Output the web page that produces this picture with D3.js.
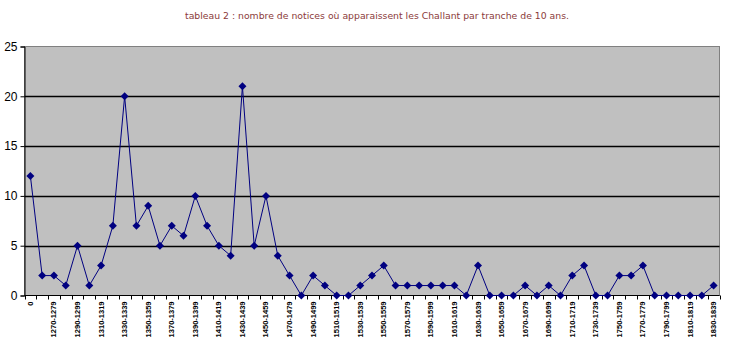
<!DOCTYPE html>
<html><head><meta charset="utf-8">
<script src="https://cdn.jsdelivr.net/npm/d3@7"></script>
<style>
body{margin:0;background:#fff;}
svg{display:block;}
</style></head>
<body>
<svg id="c" width="739" height="357"></svg>
<script>
const categories = ["0"];
for (let y = 1260; y <= 1830; y += 10) categories.push(y + "-" + (y + 9));
const values = [12,2,2,1,5,1,3,7,20,7,9,5,7,6,10,7,5,4,21,5,10,4,2,0,2,1,0,0,1,2,3,1,1,1,1,1,1,0,3,0,0,0,1,0,1,0,2,3,0,0,2,2,3,0,0,0,0,0,1];
const yTicks = [0,5,10,15,20,25];
const title = "tableau 2 : nombre de notices où apparaissent les Challant par tranche de 10 ans.";

const svg = d3.select("#c");
const L = 24.5, R = 719.5, T = 46.5, B = 295.5;
const x = d3.scaleBand().domain(categories).range([L, R]);
const y = d3.scaleLinear().domain([0, 25]).range([B, T]);

svg.append("text").attr("x", 377).attr("y", 19).attr("text-anchor", "middle")
  .attr("font-family", "'Comic Sans MS','DejaVu Sans',sans-serif").attr("font-size", 9.3)
  .attr("fill", "#8b3a3a").text(title);

svg.append("rect").attr("x", L).attr("y", T).attr("width", R - L).attr("height", B - T)
  .attr("fill", "#c0c0c0").attr("stroke", "#808080").attr("stroke-width", 1);

svg.append("g").selectAll("line").data(yTicks.filter(d => d > 0 && d < 25)).join("line")
  .attr("x1", L).attr("x2", R).attr("y1", d => Math.round(y(d)) + 0.5).attr("y2", d => Math.round(y(d)) + 0.5)
  .attr("stroke", "#000").attr("stroke-width", 1.3);

const ya = svg.append("g").attr("transform", `translate(${L},0)`)
  .call(d3.axisLeft(y).tickValues(yTicks).tickSize(4).tickPadding(3));
ya.select(".domain").attr("stroke", "#000");
ya.selectAll("text").attr("font-family", "Arial,'Liberation Sans',sans-serif").attr("font-size", 12).attr("fill", "#000");

// x axis with ticks at category boundaries
const xa = svg.append("g").attr("transform", `translate(0,${B})`);
xa.append("line").attr("x1", L).attr("x2", R).attr("stroke", "#000");
const bounds = categories.map(c => x(c)).concat([R]);
xa.selectAll("line.t").data(bounds).join("line").attr("class", "t")
  .attr("x1", d => Math.round(d) + 0.5).attr("x2", d => Math.round(d) + 0.5).attr("y1", 0).attr("y2", 4).attr("stroke", "#000");
xa.selectAll("text").data(categories.filter((c, i) => i % 2 === 0)).join("text")
  .attr("transform", d => `translate(${x(d) + x.bandwidth() / 2 + 2.5},6) rotate(-90)`)
  .attr("text-anchor", "end").attr("font-family", "Arial,'Liberation Sans',sans-serif")
  .attr("font-size", 7.5).attr("font-weight", "bold").attr("fill", "#000").text(d => d);

const cx = (d, i) => x(categories[i]) + x.bandwidth() / 2;
svg.append("path").datum(values)
  .attr("d", d3.line().x((d, i) => cx(d, i)).y(d => y(d)))
  .attr("fill", "none").attr("stroke", "#000080").attr("stroke-width", 1);

svg.append("g").selectAll("path").data(values).join("path")
  .attr("transform", (d, i) => `translate(${cx(d, i)},${y(d)})`)
  .attr("d", "M0,-4L4,0L0,4L-4,0Z").attr("fill", "#000080");
</script>
</body></html>
